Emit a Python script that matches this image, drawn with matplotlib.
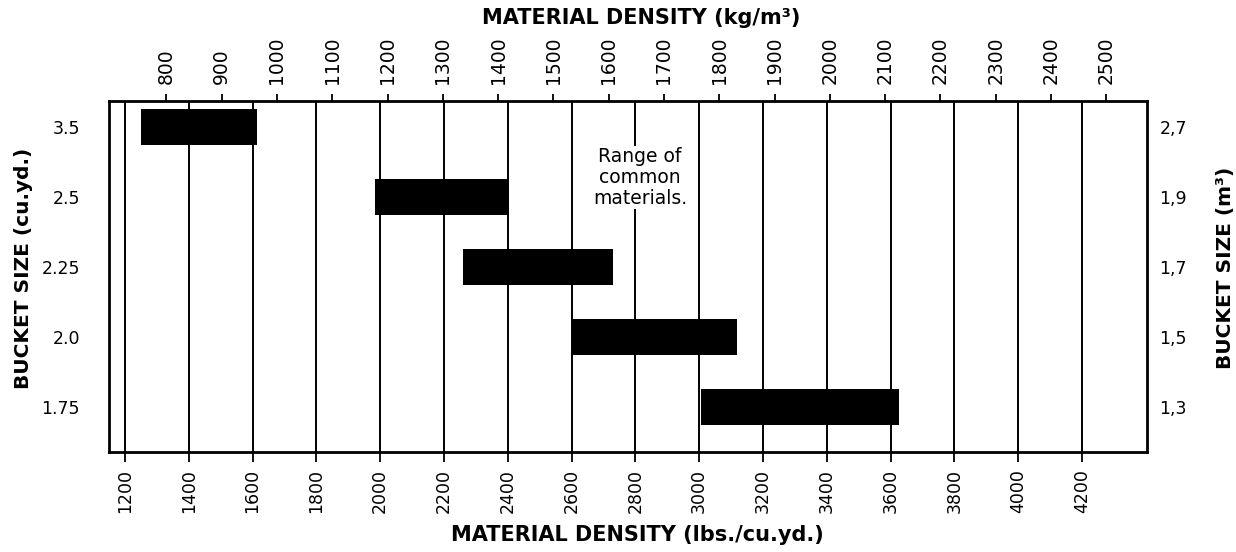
import matplotlib
matplotlib.use("Agg")
import matplotlib.pyplot as plt

# ── data ──────────────────────────────────────────────────────────────────────
bucket_cuyd = ["3.5", "2.5", "2.25", "2.0", "1.75"]
bucket_m3   = ["2,7", "1,9", "1,7", "1,5", "1,3"]
range_lo    = [1250, 1985, 2260, 2600, 3005]   # lbs./cu.yd.
range_hi    = [1615, 2405, 2730, 3120, 3625]
lbs_ticks   = [1200, 1400, 1600, 1800, 2000, 2200, 2400, 2600, 2800,
               3000, 3200, 3400, 3600, 3800, 4000, 4200]
kg_ticks    = [800, 900, 1000, 1100, 1200, 1300, 1400, 1500, 1600,
               1700, 1800, 1900, 2000, 2100, 2200, 2300, 2400, 2500]

W, H = 1236, 552
plt.rcParams["font.family"] = "DejaVu Sans"


# top scale as printed on the chart (lbs axis <-> kg axis)
def kg_to_lbs(kg):
    return 1.7335 * kg - 57.1


def lbs_to_kg(lbs):
    return (lbs + 57.1) / 1.7335


fig = plt.figure(figsize=(W / 100, H / 100), dpi=100)
ax = fig.add_axes([109 / W, 1 - 452 / H, (1147 - 109) / W, (452 - 101) / H])

ys = list(range(len(bucket_cuyd)))
ax.barh(ys, [h - l for l, h in zip(range_lo, range_hi)], left=range_lo,
        height=0.52, color="black", zorder=3)

ax.set_xlim(1150, 4404)
ax.set_ylim(4.643, -0.371)

ax.set_xticks(lbs_ticks)
ax.set_xticklabels([str(t) for t in lbs_ticks], rotation=90, fontsize=12.5)
ax.tick_params(axis="x", direction="out", length=7, width=1.3, pad=5)
ax.grid(axis="x", color="black", lw=1.4, zorder=1)

ax.set_yticks(ys)
ax.set_yticklabels(bucket_cuyd, fontsize=12.5)
ax.tick_params(axis="y", length=0, pad=21)

for s in ax.spines.values():
    s.set_linewidth(2.0)

top = ax.secondary_xaxis("top", functions=(lbs_to_kg, kg_to_lbs))
top.set_xticks(kg_ticks)
top.set_xticklabels([str(t) for t in kg_ticks], rotation=90, fontsize=13.5)
top.tick_params(direction="out", length=5, width=1.3, pad=7)

right = ax.secondary_yaxis("right")
right.set_yticks(ys)
right.set_yticklabels(bucket_m3, fontsize=12.5)
right.tick_params(length=0, pad=9)

ax.text(2815, 0.72, "Range of\ncommon\nmaterials.", ha="center", va="center",
        fontsize=13.5, linespacing=1.12, zorder=4,
        bbox=dict(facecolor="white", edgecolor="none", pad=1))

fig.text(641 / W, 1 - 18 / H, "MATERIAL DENSITY (kg/m³)", ha="center",
         va="center", fontsize=15, fontweight="bold")
fig.text(637 / W, 1 - 535 / H, "MATERIAL DENSITY (lbs./cu.yd.)", ha="center",
         va="center", fontsize=15, fontweight="bold")
fig.text(24 / W, 1 - 268 / H, "BUCKET SIZE (cu.yd.)", ha="center",
         va="center", rotation=90, fontsize=14.5, fontweight="bold")
fig.text(1225 / W, 1 - 268 / H, "BUCKET SIZE (m³)", ha="center",
         va="center", rotation=90, fontsize=14.5, fontweight="bold")

fig.savefig("out.png", dpi=100)
